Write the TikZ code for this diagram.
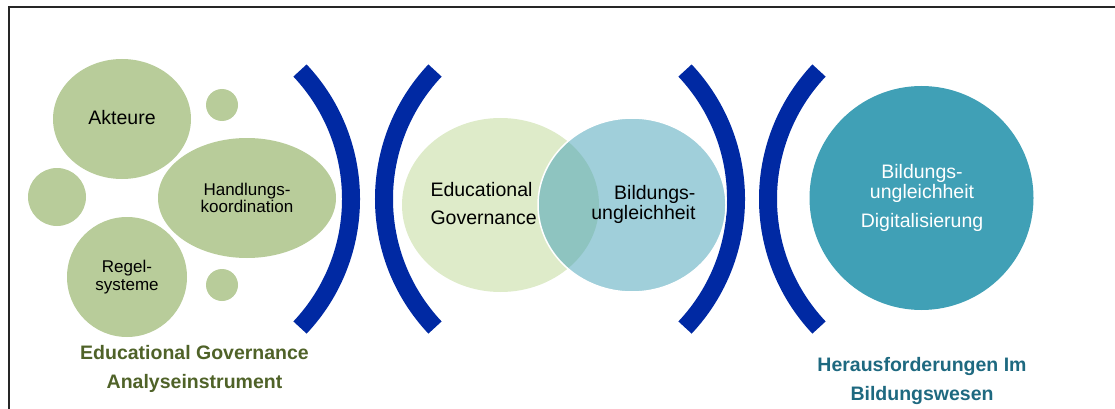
\documentclass[tikz,border=0pt]{standalone}
\usepackage{fontspec}
\setmainfont{Liberation Sans}
\usetikzlibrary{shapes.geometric}

\definecolor{sage}{RGB}{184,204,154}
\definecolor{palegreen}{RGB}{222,235,201}
\definecolor{paleblue}{RGB}{160,207,218}
\definecolor{overlap}{RGB}{142,196,192}
\definecolor{teal}{RGB}{64,160,182}
\definecolor{bracketblue}{RGB}{0,41,163}
\definecolor{olivetext}{RGB}{79,98,40}
\definecolor{tealtext}{RGB}{30,105,128}

\tikzset{
  blob/.style={ellipse, fill=sage, inner sep=0pt, text=black},
  bracket/.style={draw=bracketblue, line width=18pt, line cap=butt},
  bigtext/.style={font=\fontsize{19.5}{20}\selectfont},
  midtext/.style={font=\fontsize{17}{17.5}\selectfont, align=center},
  caption/.style={font=\fontsize{19.5}{29}\selectfont\bfseries, align=center}
}

\begin{document}
\begin{tikzpicture}[x=1pt, y=-1pt]
  \useasboundingbox (0,0) rectangle (1115,409);
  % frame (only top and left edges fall inside the page)
  \draw[line width=2pt, black!85] (1120,7) -- (9,7) -- (9,415);

  % ---- left cluster: Educational Governance as an instrument of analysis
  \node[blob, minimum width=138pt, minimum height=120pt] (akteure) at (122,119) {};
  \node[bigtext] at (122,118) {Akteure};
  \node[blob, minimum width=32pt, minimum height=32pt] (dottop) at (222,105) {};
  \node[blob, minimum width=58pt, minimum height=58pt] (dotleft) at (57,197) {};
  \node[blob, minimum width=178pt, minimum height=120pt] (handlung) at (247,198) {};
  \node[midtext] at (247,198) {Handlungs-\\koordination};
  \node[blob, minimum width=120pt, minimum height=120pt] (regel) at (127,277) {};
  \node[midtext] at (127,277) {Regel-\\systeme};
  \node[blob, minimum width=32pt, minimum height=32pt] (dotbottom) at (222,285) {};

  \node[caption, text=olivetext] (leftcap) at (194.5,368.5) {Educational Governance\\Analyseinstrument};

  % ---- brackets
  \draw[bracket] (300,70.5) arc[start angle=43.3, end angle=-43.3, radius=187.4pt];
  \draw[bracket] (435,70.5) arc[start angle=136.7, end angle=223.3, radius=187.4pt];
  \draw[bracket] (685,70.5) arc[start angle=43.3, end angle=-43.3, radius=187.4pt];
  \draw[bracket] (819,70.5) arc[start angle=136.7, end angle=223.3, radius=187.4pt];

  % ---- overlapping pair in the middle
  \node[ellipse, fill=palegreen, minimum width=197pt, minimum height=174pt, inner sep=0pt] (gov) at (500.5,205) {};
  \node[ellipse, fill=paleblue, minimum width=188pt, minimum height=174pt, inner sep=0pt] (ungl) at (632,205) {};
  \begin{scope}
    \clip (632,205) ellipse [x radius=94pt, y radius=87pt];
    \fill[overlap] (500.5,205) ellipse [x radius=98.5pt, y radius=87pt];
  \end{scope}
  \draw[white, line width=1.5pt] (632,205) ellipse [x radius=94pt, y radius=87pt];
  \node[bigtext, anchor=west] at (427,190) {Educational};
  \node[bigtext, anchor=west] at (427,218) {Governance};
  \node[bigtext, anchor=east, align=right] at (699,204) {Bildungs-\\ungleichheit};

  % ---- challenges circle on the right
  \node[circle, fill=teal, minimum size=224pt, inner sep=0pt] (challenge) at (921.5,198) {};
  \node[bigtext, text=white, align=center] at (922,183) {Bildungs-\\ungleichheit};
  \node[bigtext, text=white] at (922,222) {Digitalisierung};

  \node[caption, text=tealtext] (rightcap) at (922,381) {Herausforderungen Im\\Bildungswesen};
\end{tikzpicture}
\end{document}
